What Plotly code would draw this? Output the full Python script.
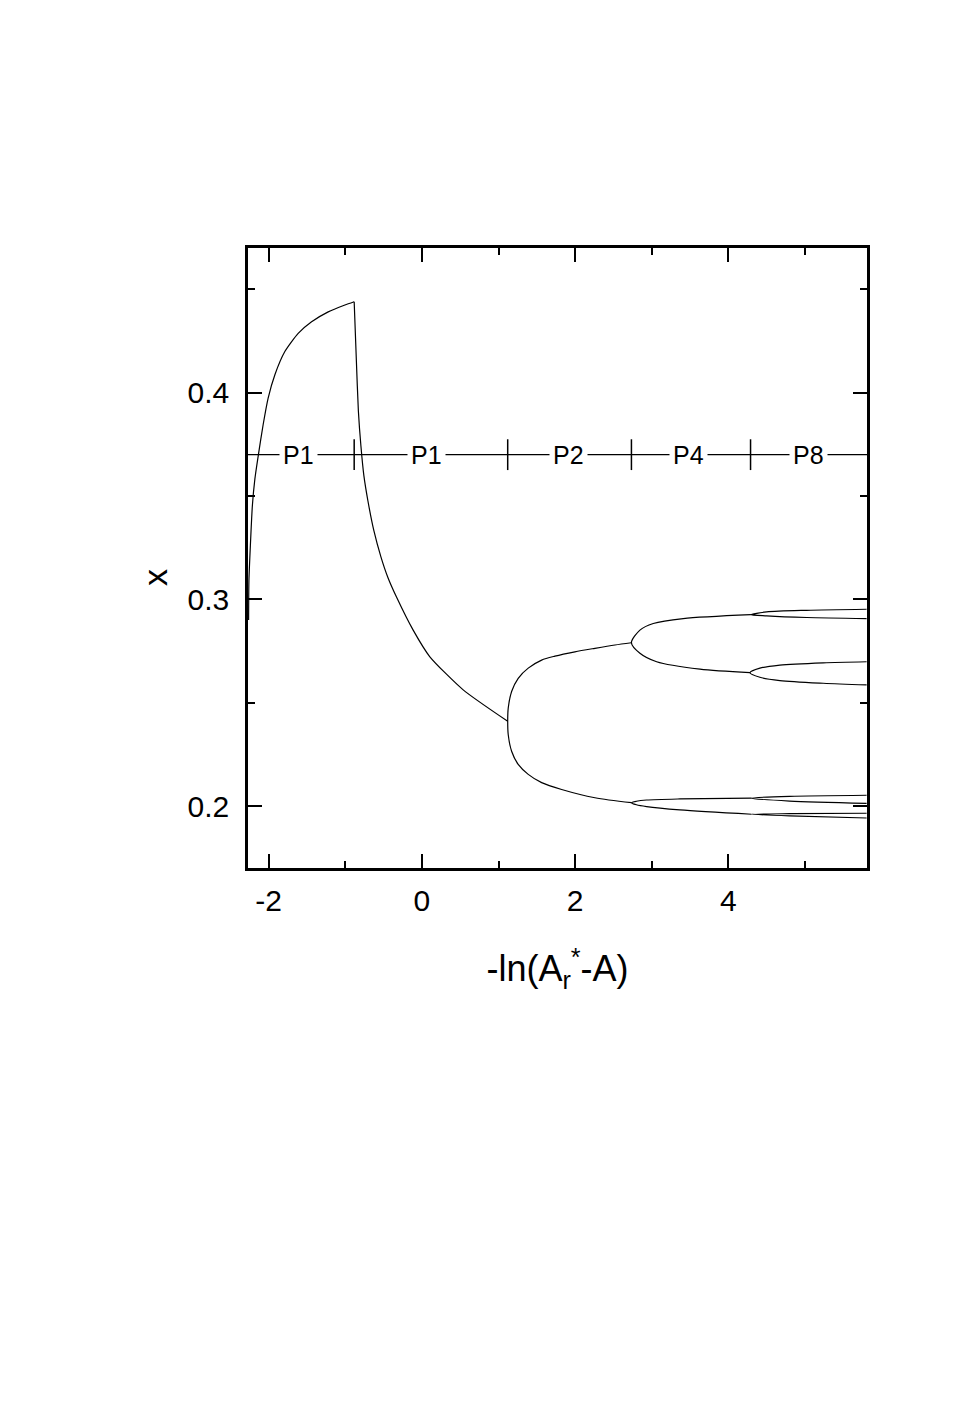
import plotly.graph_objects as go

# bifurcation diagram: x vs -ln(A_r* - A), period doubling P1 -> P2 -> P4 -> P8

###########################################################################################
# values

# first P1 region, rising
p1a_x = [-2.262, -2.258, -2.239, -2.213, -2.180, -2.137, -2.072, -2.007, -1.919, -1.789,
         -1.615, -1.44, -1.223, -1.005, -0.884]
p1a_y = [0.290, 0.3091, 0.3260, 0.3453, 0.3583, 0.3693, 0.3846, 0.3974, 0.4087, 0.4199,
         0.4287, 0.4343, 0.4391, 0.4424, 0.444]

# second P1 region, decaying
p1b_x = [-0.884, -0.855, -0.829, -0.796, -0.757, -0.705, -0.627, -0.536, -0.444, -0.330,
         -0.114, 0.104, 0.539, 1.12]
p1b_y = [0.444, 0.4151, 0.3910, 0.3742, 0.3597, 0.3477, 0.3332, 0.3207, 0.3106, 0.3010,
         0.2851, 0.2722, 0.2562, 0.2410]

# P2 fork (vertex, then upper and lower branches)
p2_vertex = (1.12, 0.2410)
p2_up_x = [1.127, 1.171, 1.257, 1.388, 1.563, 1.736, 1.997, 2.259, 2.520, 2.735]
p2_up_y = [0.2474, 0.2554, 0.2618, 0.2667, 0.2706, 0.2725, 0.2746, 0.2763, 0.2779, 0.2790]
p2_lo_x = [1.127, 1.171, 1.257, 1.388, 1.563, 1.824, 2.259, 2.735]
p2_lo_y = [0.2345, 0.2265, 0.2201, 0.2153, 0.2113, 0.2080, 0.2040, 0.2016]

# P4 forks
p4a_vertex = (2.735, 0.2790)
p4a_up_x = [2.846, 3.020, 3.411, 4.295]
p4a_up_y = [0.2851, 0.2883, 0.2907, 0.2926]
p4a_lo_x = [2.846, 3.064, 3.630, 4.283]
p4a_lo_y = [0.2739, 0.2698, 0.2662, 0.2645]

p4b_vertex = (2.735, 0.2016)
p4b_up_x = [2.80, 2.933, 3.368, 4.304]
p4b_up_y = [0.2023, 0.2029, 0.2034, 0.2038]
p4b_lo_x = [2.80, 2.933, 3.368, 4.304]
p4b_lo_y = [0.2006, 0.1997, 0.1981, 0.1960]

# P8 forks
p8a_vertex = (4.295, 0.2926)
p8a_up_x = [4.50, 5.022, 5.805]
p8a_up_y = [0.2939, 0.2947, 0.2952]
p8a_lo_x = [4.50, 5.022, 5.805]
p8a_lo_y = [0.2920, 0.2912, 0.2907]

p8b_vertex = (4.283, 0.2645)
p8b_up_x = [4.412, 4.673, 5.239, 5.805]
p8b_up_y = [0.2667, 0.2682, 0.2693, 0.2698]
p8b_lo_x = [4.412, 4.673, 5.239, 5.805]
p8b_lo_y = [0.2623, 0.2607, 0.2594, 0.2586]

p8c_vertex = (4.304, 0.2038)
p8c_up_x = [4.80, 5.805]
p8c_up_y = [0.2047, 0.2052]
p8c_lo_x = [4.80, 5.805]
p8c_lo_y = [0.2024, 0.2013]

p8d_vertex = (4.304, 0.1960)
p8d_up_x = [4.80, 5.805]
p8d_up_y = [0.1963, 0.1965]
p8d_lo_x = [4.80, 5.805]
p8d_lo_y = [0.1952, 0.1942]

# regime bar
regime_y = 0.37
regime_bounds = [-0.884, 1.12, 2.735, 4.29]
regime_labels = ["P1", "P1", "P2", "P4", "P8"]
regime_label_x = [-1.615, 0.061, 1.91, 3.477, 5.04]

x_range = [-2.27, 5.81]
y_range = [0.17, 0.47]
x_ticks = [-2, 0, 2, 4]
x_ticklabels = ["-2", "0", "2", "4"]

###########################################################################################

fnt = "Arial, Liberation Sans, sans-serif"


def fork(vertex, up_x, up_y, lo_x, lo_y):
    # one line from the end of the upper branch, through the vertex, to the end of the lower
    fx = up_x[::-1] + [vertex[0]] + lo_x
    fy = up_y[::-1] + [vertex[1]] + lo_y
    return fx, fy


pieces = [
    (p1a_x, p1a_y, 0.6),
    (p1b_x, p1b_y, 0.6),
]
for f in [
    fork(p2_vertex, p2_up_x, p2_up_y, p2_lo_x, p2_lo_y),
    fork(p4a_vertex, p4a_up_x, p4a_up_y, p4a_lo_x, p4a_lo_y),
    fork(p4b_vertex, p4b_up_x, p4b_up_y, p4b_lo_x, p4b_lo_y),
    fork(p8a_vertex, p8a_up_x, p8a_up_y, p8a_lo_x, p8a_lo_y),
    fork(p8b_vertex, p8b_up_x, p8b_up_y, p8b_lo_x, p8b_lo_y),
    fork(p8c_vertex, p8c_up_x, p8c_up_y, p8c_lo_x, p8c_lo_y),
    fork(p8d_vertex, p8d_up_x, p8d_up_y, p8d_lo_x, p8d_lo_y),
]:
    pieces.append((f[0], f[1], 0.8))

fig = go.Figure()

# horizontal regime line across the whole plot
fig.add_shape(type="line", xref="x domain", yref="y", x0=0, x1=1, y0=regime_y, y1=regime_y,
              line=dict(color="black", width=1.3), layer="below")

for px_, py_, sm in pieces:
    fig.add_trace(go.Scatter(x=px_, y=py_, mode="lines",
                             line=dict(color="black", width=1.2, shape="spline", smoothing=sm),
                             showlegend=False, hoverinfo="skip"))

# boundary marks on the regime line
fig.add_trace(go.Scatter(
    x=regime_bounds, y=[regime_y] * len(regime_bounds), mode="markers",
    marker=dict(symbol="line-ns-open", size=22, color="black",
                line=dict(color="black", width=1.5)),
    showlegend=False, hoverinfo="skip"
))

for lx, lt in zip(regime_label_x, regime_labels):
    fig.add_annotation(x=lx, y=regime_y, text=lt, showarrow=False,
                       font=dict(family=fnt, size=25, color="black"),
                       bgcolor="white", borderpad=3)

# y axis title sits a bit below the middle in the reference
fig.add_annotation(xref="paper", yref="paper", x=-0.15, y=0.468, text="x", textangle=-90,
                   showarrow=False, xanchor="center", yanchor="middle",
                   font=dict(family=fnt, size=34, color="black"))

axis_common = dict(
    showline=True, linecolor="black", linewidth=2.5, mirror="ticks",
    ticks="inside", tickcolor="black", tickwidth=2, ticklen=14,
    showgrid=False, zeroline=False,
    tickfont=dict(family=fnt, size=30, color="black"),
)

fig.update_xaxes(
    range=x_range, tickmode="array", tickvals=x_ticks, ticktext=x_ticklabels,
    minor=dict(ticks="inside", tickmode="linear", dtick=1, tick0=-1, ticklen=7,
               tickwidth=2, tickcolor="black"),
    ticklabelstandoff=4,
    title=dict(text="-ln(A<sub>r</sub><sup>*</sup>-A)", standoff=41,
               font=dict(family=fnt, size=36, color="black")),
    **axis_common
)
fig.update_yaxes(
    range=y_range, tick0=0.2, dtick=0.1, tickformat=".1f",
    minor=dict(ticks="inside", dtick=0.05, tick0=0.15, ticklen=7, tickwidth=2, tickcolor="black"),
    ticklabelstandoff=10,
    **axis_common
)

# the page body adds 8 px, so the margins are 8 px smaller than the reference offsets
fig.update_layout(
    width=969, height=1398,
    margin=dict(l=240, r=110, t=240, b=538),
    plot_bgcolor="white", paper_bgcolor="white",
)

fig.write_html("out.html")
